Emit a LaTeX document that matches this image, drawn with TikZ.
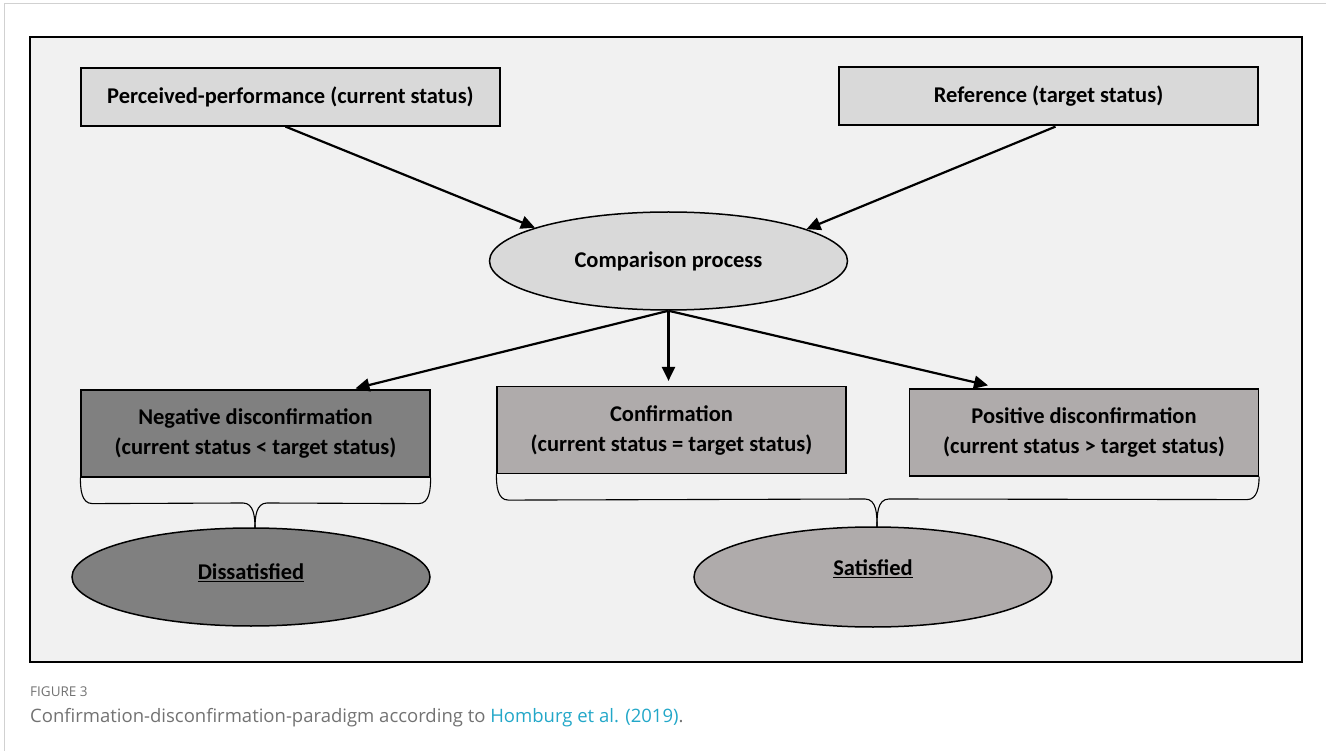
\documentclass[tikz,border=0pt]{standalone}
\usepackage{fontspec}
\setmainfont{Carlito}
\newfontfamily\capfont{Open Sans}
\usepackage{tikz}
\usetikzlibrary{arrows.meta}
\usetikzlibrary{shapes.geometric}
\usetikzlibrary{positioning}
\definecolor{framegray}{HTML}{F1F1F1}
\definecolor{lightbox}{HTML}{D9D9D9}
\definecolor{darkbox}{HTML}{808080}
\definecolor{midbox}{HTML}{AFABAB}
\definecolor{captext}{HTML}{727272}
\definecolor{linkblue}{HTML}{22A7C8}

\begin{document}
\begin{tikzpicture}
		[x=1pt,y=-1pt,
		every node/.style={font=\fontsize{22.5}{30}\selectfont\bfseries,align=center},
		topbox/.style={rectangle,draw,line width=1.2pt,fill=lightbox,minimum width=419pt,minimum height=58pt},
		outbox/.style={rectangle,draw,line width=1.2pt,minimum width=349pt,minimum height=87pt},
		oval/.style={ellipse,draw,line width=1.5pt,minimum width=358pt,minimum height=98pt},
		arr/.style={line width=2.2pt,-{Triangle[length=14pt,width=13pt]}},
		brace/.style={line width=1.1pt}]
		\useasboundingbox (0,0) rectangle (1326,751);
		\draw[black!18,line width=1pt] (4,751) -- (4,4) -- (1326,4);
		\draw[line width=2.4pt,fill=framegray] (30,37) rectangle (1302,662);
		
		\node[topbox] (perf) at (290.5,97) {Perceived-performance (current status)};
		\node[topbox] (ref) at (1048.5,96) {Reference (target status)};
		\node[oval,fill=lightbox] (comp) at (668.5,261) {Comparison process};
		\node[outbox,fill=darkbox] (neg) at (255.5,433.5) {Negative disconfirmation\\(current status < target status)};
		\node[outbox,fill=midbox] (conf) at (671.5,430) {Confirmation\\(current status = target status)};
		\node[outbox,fill=midbox] (pos) at (1084,432.5) {Positive disconfirmation\\(current status > target status)};
		\node[oval,fill=darkbox] (dis) at (251,577) {\raisebox{4pt}[\height][\depth]{\underline{Dissatisfied}}};
		\node[oval,fill=midbox,minimum height=100pt] (sat) at (873,577) {\raisebox{8pt}[\height][\depth]{\underline{Satisfied}}};
		
		\draw[arr] ([xshift=-5pt]perf.south) -- (comp.166);
		\draw[arr] ([xshift=7pt,yshift=-1pt]ref.south) -- (comp.13);
		\foreach \to/\dx/\dy in {neg/100/-1, conf/-3/-5, pos/-96/-3}
		\draw[arr] (comp.south) -- ([xshift=\dx pt,yshift=-\dy pt]\to.north);
		
		% braces
		\draw[brace] (neg.south west) to[out=-90,in=180] ([xshift=12pt,yshift=-26pt]neg.south west)
		-- (243,503) to[out=0,in=90] (255,528);
		\draw[brace] (neg.south east) to[out=-90,in=0] ([xshift=-12pt,yshift=-26pt]neg.south east)
		-- (267,503) to[out=180,in=90] (255,528);
		\draw[brace] (conf.south west) to[out=-90,in=180] ([xshift=12pt,yshift=-26pt]conf.south west)
		-- (865,499) to[out=0,in=90] (877,527);
		\draw[brace] (pos.south east) to[out=-90,in=0] ([xshift=-12pt,yshift=-23pt]pos.south east)
		-- (889,499) to[out=180,in=90] (877,527);
		
		% caption
		\node[font=\capfont\fontsize{13.5}{16}\selectfont,text=captext,anchor=base west,inner sep=0pt] (figno) at (30,696) {FIGURE 3};
		\node[font=\capfont\fontsize{18.5}{22}\selectfont,text=captext,anchor=base west,inner sep=0pt] (cap) at (30,722)
		{Confirmation-disconfirmation-paradigm according to \textcolor{linkblue}{Homburg et al. (2019)}.};
		\end{tikzpicture}
\end{document}
